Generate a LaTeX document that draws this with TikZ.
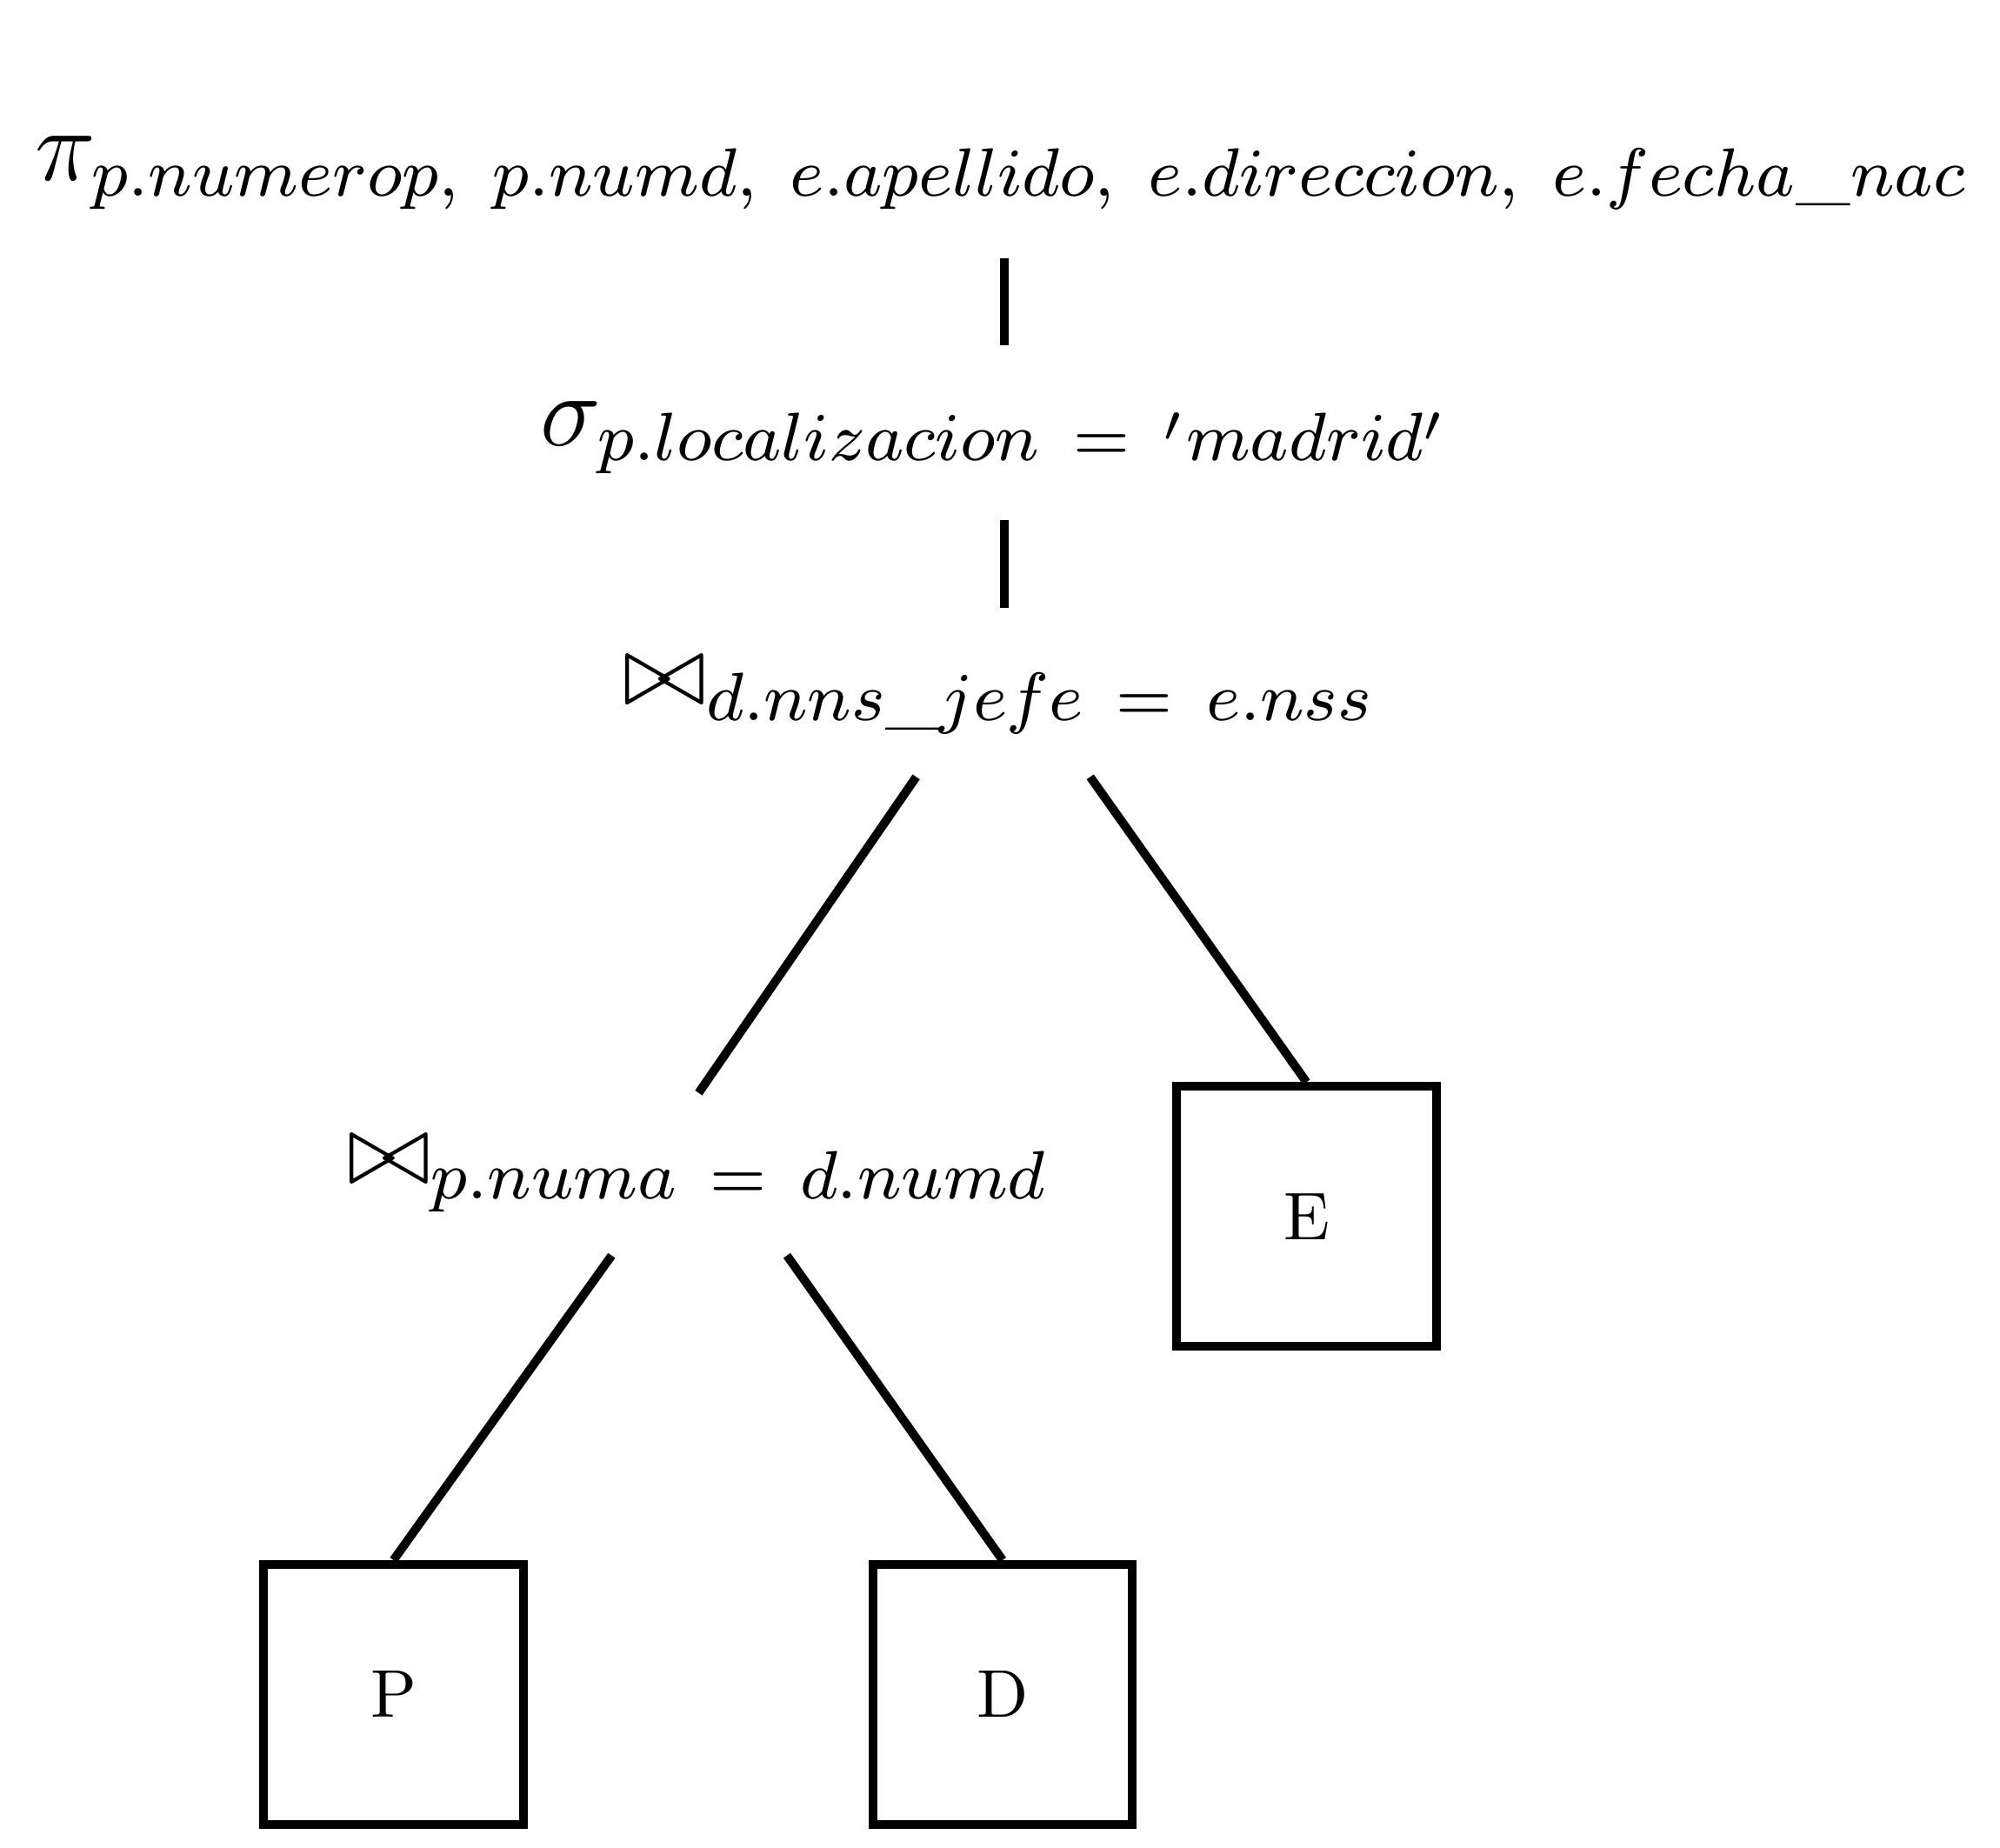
\documentclass[tikz,border=0pt]{standalone}
\usepackage{amsmath}
\usepackage{amssymb}
\usepackage{graphicx}
\usepackage{tikz}
\tikzset{
    op/.style={inner sep=0.33cm, anchor=base},
    rel/.style={draw, line width=1.93pt, minimum size=2.03cm, inner sep=0pt},
    edge/.style={line width=1.93pt}
}
\newcommand{\opsize}[1]{\scalebox{1.9}{\large$#1$}}
\newcommand{\relsize}[1]{\scalebox{1.5}{#1}}
\begin{document}
\begin{tikzpicture}
          \useasboundingbox (0,0) rectangle (15.63,-14.44);
          \node [op] (proj) at (7.83,-1.41) {\opsize{\pi_{p.numerop,\ p.numd,\ e.apellido,\ e.direccion,\ e.fecha\_nac}}};
          \node [op] (sel) at (7.78,-3.48) {\opsize{\sigma_{p.localizacion\ =\ 'madrid'}}};
          \node [op] (j1) at (7.81,-5.51) {\opsize{\bowtie_{d.nns\_jefe\ =\ e.nss}}};
          \node [op] (j2) at (5.46,-9.25) {\opsize{\bowtie_{p.numa\ =\ d.numd}}};
          \node [rel] (E) at (10.21,-9.505) {\relsize{E}};
          \node [rel] (P) at (3.075,-13.24) {\relsize{P}};
          \node [rel] (D) at (7.835,-13.24) {\relsize{D}};
          \draw [edge, shorten <=0.05cm, shorten >=0.1cm] ([xshift=0.2mm]proj.south) -- ([xshift=0.2mm]proj.south |- sel.north);
          \draw [edge, shorten <=0.02cm, shorten >=0.05cm] ([xshift=0.7mm]sel.south) -- ([xshift=0.7mm]sel.south |- j1.north);
          \draw [edge] ([xshift=-6.5mm]j1.south) -- (j2.north);
          \draw [edge] ([xshift=7.1mm]j1.south) -- (E.north);
          \draw [edge] ([xshift=-6.8mm]j2.south) -- (P.north);
          \draw [edge] ([xshift=6.9mm]j2.south) -- (D.north);
        \end{tikzpicture}
\end{document}
